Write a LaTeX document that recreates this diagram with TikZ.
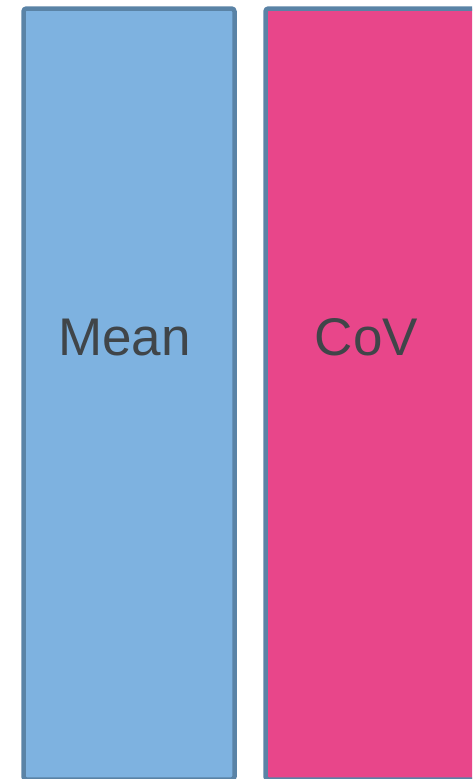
\documentclass[tikz,border=0pt]{standalone}
\usepackage{fontspec}
\setmainfont{Liberation Sans}
\definecolor{meanfill}{HTML}{7EB2E0}
\definecolor{covfill}{HTML}{E8468A}
\definecolor{barline}{HTML}{5A83A6}
\definecolor{labeltext}{HTML}{404549}
\begin{document}
\begin{tikzpicture}[x=1pt,y=-1pt,
  bar/.style={draw=barline, line width=4.5pt, rounded corners=3pt},
  barlabel/.style={text=labeltext, font=\fontsize{53}{58}\selectfont, anchor=base, inner sep=0pt}]
  \useasboundingbox (0,0) rectangle (472,779);
  \clip (0,0) rectangle (472,779);
  % mean column
  \draw[bar, fill=meanfill] (23.5,8.5) rectangle (234.5,779.5);
  \coordinate (meanbar) at (129,395);
  \node[barlabel] (meanlabel) at (124.5,355) {Mean};
  % covariance column, running past the right edge
  \draw[bar, fill=covfill] (265.5,8.5) rectangle (480,779.5);
  \coordinate (covbar) at (371,395);
  \node[barlabel] (covlabel) at (366.5,355) {CoV};
\end{tikzpicture}
\end{document}
